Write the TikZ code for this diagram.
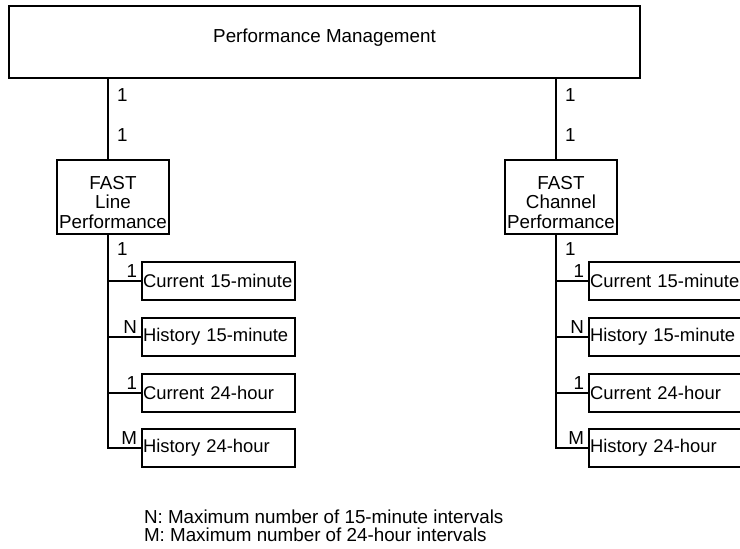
\documentclass[tikz,border=0pt]{standalone}
\usepackage{fontspec}
\setmainfont{Liberation Sans}
\begin{document}
\begin{tikzpicture}[x=0.5pt,y=-0.5pt,line width=1pt,
	font=\fontsize{9.4}{9.8}\selectfont,
	box/.style={draw,rectangle,inner sep=1pt},
	fastbox/.style={box,minimum width=56pt,minimum height=37pt},
	fasttext/.style={align=center,inner sep=0pt,yshift=-3pt},
	subbox/.style={box,minimum width=76.5pt,minimum height=19pt,text width=75.5pt,inner xsep=0.5pt,align=left,font=\fontsize{9.2}{9.8}\selectfont},
	mult/.style={inner sep=1.5pt}]
		\clip (0,0) rectangle (740,548);
		\coordinate (lx) at (108,0);
		\coordinate (rx) at (556,0);
		
		\node[box,minimum width=315.5pt,minimum height=36pt,text height=8pt,text depth=8pt] (pm) at (324.5,42) {Performance Management};
		
		\node[fastbox,label={[fasttext]center:{FAST\\Line\\Performance}}] (fl) at (113,196.5) {};
		\node[fastbox,label={[fasttext]center:{FAST\\Channel\\Performance}}] (fc) at (561,196.5) {};
		
		\node[subbox] (lc15) at (218.5,281) {Current 15-minute};
		\node[subbox] (lh15) at (218.5,337) {History 15-minute};
		\node[subbox] (lc24) at (218.5,393) {Current 24-hour};
		\node[subbox] (lh24) at (218.5,448) {History 24-hour};
		
		\node[subbox] (rc15) at (665.5,281) {Current 15-minute};
		\node[subbox] (rh15) at (665.5,337) {History 15-minute};
		\node[subbox] (rc24) at (665.5,393) {Current 24-hour};
		\node[subbox] (rh24) at (665.5,448) {History 24-hour};
		
		\draw[-] (pm.south -| lx) to (fl.north -| lx);
		\draw[-] (pm.south -| rx) to (fc.north -| rx);
		\draw[-] (fl.south -| lx) |- (lh24.west);
		\draw[-] (fc.south -| rx) |- (rh24.west);
		\draw[-] (lc15.west) to (lc15.west -| lx); \draw[-] (lh15.west) to (lh15.west -| lx);
		\draw[-] (lc24.west) to (lc24.west -| lx);
		\draw[-] (rc15.west) to (rc15.west -| rx); \draw[-] (rh15.west) to (rh15.west -| rx);
		\draw[-] (rc24.west) to (rc24.west -| rx);
		
		\node[mult,anchor=west] (lt1) at (113,95) {1};
		\node[mult,anchor=west] (lt2) at (113,135) {1};
		\node[mult,anchor=west] (lb1) at (113,249) {1};
		\node[mult,anchor=west] (rt1) at (561,95) {1};
		\node[mult,anchor=west] (rt2) at (561,135) {1};
		\node[mult,anchor=west] (rb1) at (561,249) {1};
		
		\node[mult,anchor=south east] (lc15m) at (lc15.west) {1};
		\node[mult,anchor=south east] (lh15m) at (lh15.west) {N};
		\node[mult,anchor=south east] (lc24m) at (lc24.west) {1};
		\node[mult,anchor=south east] (lh24m) at (lh24.west) {M};
		\node[mult,anchor=south east] (rc15m) at (rc15.west) {1};
		\node[mult,anchor=south east] (rh15m) at (rh15.west) {N};
		\node[mult,anchor=south east] (rc24m) at (rc24.west) {1};
		\node[mult,anchor=south east] (rh24m) at (rh24.west) {M};
		
		\node[anchor=west,align=left,inner sep=1pt,font=\fontsize{9.4}{9}\selectfont] (legend) at (141,526) {N: Maximum number of 15-minute intervals\\M: Maximum number of 24-hour intervals};
\end{tikzpicture}
\end{document}
